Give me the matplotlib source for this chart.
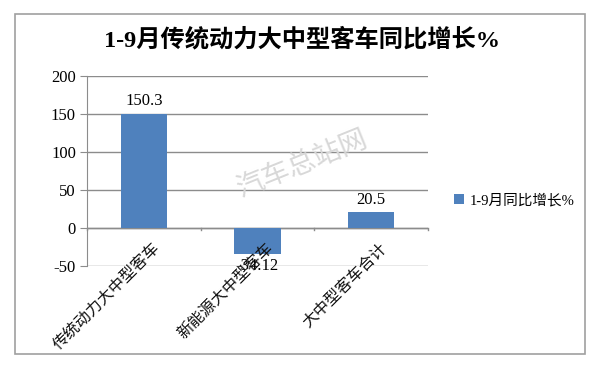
import matplotlib
matplotlib.use("Agg")
import matplotlib.pyplot as plt
from matplotlib.patches import Rectangle

categories = ["传统动力大中型客车", "新能源大中型客车", "大中型客车合计"]
values = [150.3, -34.12, 20.5]
value_labels = ["150.3", "-34.12", "20.5"]
yticks = [-50, 0, 50, 100, 150, 200]
series_name = "1-9月同比增长%"
title = "1-9月传统动力大中型客车同比增长%"

serif_cjk = ["Liberation Serif", "Noto Sans CJK SC"]
cjk = ["Noto Sans CJK SC", "DejaVu Sans"]
plt.rcParams["font.family"] = serif_cjk

fig = plt.figure(figsize=(6, 3.73), dpi=100)
fig.patches.append(Rectangle((0.025, 0.052), 0.95, 0.91, transform=fig.transFigure,
                             fill=False, edgecolor="#a0a0a0", linewidth=1.2))

ax = fig.add_axes([0.145, 0.287, 0.568, 0.509])
bar_color = "#4f81bd"
x = list(range(len(categories)))
bars = ax.bar(x, values, width=0.41, color=bar_color, zorder=3, label=series_name)

ax.set_xlim(-0.5, len(categories) - 0.5)
ax.set_ylim(-50, 200)
ax.set_yticks(yticks)
ax.set_yticklabels([str(t) for t in yticks], fontsize=12, family=serif_cjk)
ax.yaxis.grid(True, color="#8c8c8c", linewidth=1.0, zorder=0)
for s in ["top", "right", "bottom"]:
    ax.spines[s].set_visible(False)
ax.spines["left"].set_color("#8c8c8c")
ax.tick_params(axis="y", length=5, color="#8c8c8c", pad=3)

# category axis at 0
ax.axhline(0, color="#8c8c8c", linewidth=1.0, zorder=2)
ax.set_xticks([])
for b in [-0.5, 0.5, 1.5, 2.5]:
    ax.plot([b, b], [0, -3], color="#8c8c8c", linewidth=1.0, clip_on=False, zorder=2)

for i, cat in enumerate(categories):
    ax.text(i + 0.12, -23, cat, rotation=45, ha="right", va="center",
            rotation_mode="anchor", fontsize=11.5, family=cjk, color="#111111", zorder=5)

for i, (v, lab) in enumerate(zip(values, value_labels)):
    if v >= 0:
        ax.text(i, v + 6, lab, ha="center", va="bottom", fontsize=12, family=serif_cjk)
    else:
        ax.text(i, v - 5, lab, ha="center", va="top", fontsize=12, family=serif_cjk)

fig.text(0.503, 0.893, title, ha="center", va="center", fontsize=17.5, fontweight="bold",
         family=["Liberation Serif", "Noto Sans CJK SC"])

leg = fig.legend(handles=[bars], labels=[series_name], loc="center left",
                 bbox_to_anchor=(0.735, 0.463), frameon=False,
                 prop={"family": ["Liberation Serif", "Noto Sans CJK SC"], "size": 10.5},
                 handlelength=0.7, handleheight=0.7, handletextpad=0.4)

fig.text(0.505, 0.56, "汽车总站网", rotation=22, ha="center", va="center",
         fontsize=20, color="#d8d8d8", family=cjk, zorder=0)

fig.savefig("out.png", dpi=100)
